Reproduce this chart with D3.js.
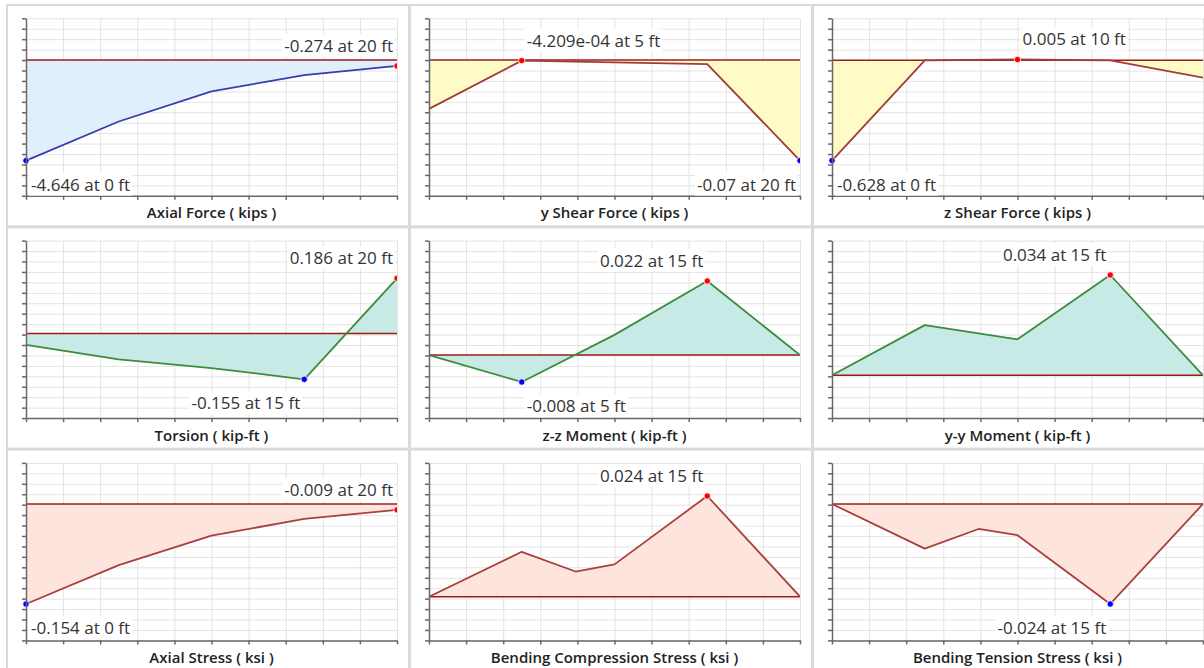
<!DOCTYPE html>
<html>
<head>
<meta charset="utf-8">
<script src="https://cdn.jsdelivr.net/npm/d3@7"></script>
<style>
  body { margin: 0; background: #fff; }
  svg { display: block; font-family: "Open Sans", "Noto Sans", sans-serif; }
</style>
</head>
<body>
<svg id="chart" width="1204" height="668"></svg>
<script>
// Stations along the member (ft)
const stations = [0, 5, 10, 15, 20];
const stressStations = [0, 5, 7.9, 10, 15, 20];

// Result values at each station
const axialForce   = [-4.646, -2.84, -1.45, -0.70, -0.274];
const yShearForce  = [-0.034, -4.209e-4, -0.0016, -0.0028, -0.07];
const zShearForce  = [-0.628, 0.0, 0.005, 0.0, -0.108];
const torsion      = [-0.039, -0.088, -0.117, -0.155, 0.186];
const zzMoment     = [0, -0.008, 0.006, 0.022, 0];
const yyMoment     = [0, 0.017, 0.0122, 0.034, 0];
const axialStress  = [-0.154, -0.094, -0.0488, -0.023, -0.009];
const bendCompStress = [0, 0.0107, 0.006, 0.0077, 0.024, 0];
const bendTensStress = [0, -0.0107, -0.006, -0.0075, -0.024, 0];

// Diagram titles
const titles = [
  "Axial Force ( kips )", "y Shear Force ( kips )", "z Shear Force ( kips )",
  "Torsion ( kip-ft )", "z-z Moment ( kip-ft )", "y-y Moment ( kip-ft )",
  "Axial Stress ( ksi )", "Bending Compression Stress ( ksi )", "Bending Tension Stress ( ksi )"
];

// Value range shown on each diagram's vertical axis [low, high]
const yDomains = [
  [-6.272, 1.926], [-0.0945, 0.02902], [-0.8485, 0.263],
  [-0.286, 0.3133], [-0.01872, 0.0340], [-0.01451, 0.04566],
  [-0.210, 0.0633], [-0.01042, 0.03189], [-0.03274, 0.00986]
];

// Which extremes get a marker and a label: [max, min]
const extremaShown = [
  [true, true], [true, true], [true, true],
  [true, true], [true, true], [true, false],
  [true, true], [true, false], [false, true]
];

const seriesValues = [axialForce, yShearForce, zShearForce, torsion, zzMoment, yyMoment,
                      axialStress, bendCompStress, bendTensStress];
const seriesStations = [stations, stations, stations, stations, stations, stations,
                        stations, stressStations, stressStations];

// Colour themes per result family
const themes = {
  axial:  { line: "#3b3bb0", fill: "#dfeffb" },
  shear:  { line: "#a03c3a", fill: "#fffbc6" },
  moment: { line: "#3d8b3d", fill: "#c8eae7" },
  stress: { line: "#a8403e", fill: "#fde4dc" }
};
const panelThemes = ["axial", "shear", "shear", "moment", "moment", "moment", "stress", "stress", "stress"];

const cellW = 403, cellH = 222.3;
const padL = 26, padT = 18.3, plotW = 371, plotH = 177.5;

const svg = d3.select("#chart");

function formatValue(v) {
  if (v !== 0 && Math.abs(v) < 0.001) {
    return v.toExponential(3).replace(/e([+-])(\d)$/, "e$10$2");
  }
  return String(+v.toFixed(3));
}

titles.forEach((title, i) => {
  const col = i % 3, row = Math.floor(i / 3);
  const ox = col * cellW, oy = row * cellH;
  const xs = seriesStations[i], ys = seriesValues[i];
  const theme = themes[panelThemes[i]];
  const [lo, hi] = yDomains[i];

  // panel frame
  svg.append("rect")
    .attr("x", ox + 7).attr("y", oy + 5)
    .attr("width", cellW - 1).attr("height", cellH - 1)
    .attr("fill", "none").attr("stroke", "#dadada").attr("stroke-width", 2);

  const g = svg.append("g").attr("transform", `translate(${ox + padL},${oy + padT})`);

  const x = d3.scaleLinear().domain([0, 20]).range([0, plotW]);
  const y = d3.scaleLinear().domain([lo, hi]).range([plotH, 0]);
  const yTicks = d3.range(18).map(k => lo + k * (hi - lo) / 17);
  const xTicks = d3.range(0, 21, 2);

  const clipId = "clip" + i;
  g.append("clipPath").attr("id", clipId)
    .append("rect").attr("x", -6).attr("y", -4).attr("width", plotW + 6).attr("height", plotH + 8);

  // grid
  const gy = g.append("g")
    .call(d3.axisLeft(y).tickValues(yTicks).tickSize(-plotW).tickFormat(""));
  gy.select(".domain").remove();
  gy.selectAll("line").attr("stroke", "#e3e3e3").attr("stroke-width", 1);
  const gx = g.append("g")
    .call(d3.axisBottom(x).tickValues(xTicks).tickSize(plotH).tickFormat(""));
  gx.select(".domain").remove();
  gx.selectAll("line").attr("stroke", "#e3e3e3").attr("stroke-width", 1);

  const pts = xs.map((s, k) => [s, ys[k]]);
  const body = g.append("g").attr("clip-path", `url(#${clipId})`);

  // filled diagram
  body.append("path")
    .datum(pts)
    .attr("fill", theme.fill)
    .attr("d", d3.area().x(d => x(d[0])).y0(y(0)).y1(d => y(d[1])));

  // zero reference line
  body.append("line")
    .attr("x1", 0).attr("x2", plotW)
    .attr("y1", y(0)).attr("y2", y(0))
    .attr("stroke", "#9e1b1b").attr("stroke-width", 1.5);

  // diagram outline
  body.append("path")
    .datum(pts)
    .attr("fill", "none")
    .attr("stroke", theme.line).attr("stroke-width", 1.8)
    .attr("stroke-linejoin", "round")
    .attr("d", d3.line().x(d => x(d[0])).y(d => y(d[1])));

  // axes
  const ay = g.append("g")
    .call(d3.axisLeft(y).tickValues(yTicks).tickSize(4).tickSizeOuter(0).tickFormat(""));
  ay.selectAll("line, path").attr("stroke", "#686868").attr("stroke-width", 1.5);
  const ax = g.append("g").attr("transform", `translate(0,${plotH})`)
    .call(d3.axisBottom(x).tickValues(xTicks).tickSize(4).tickSizeOuter(0).tickFormat(""));
  ax.selectAll("line, path").attr("stroke", "#686868").attr("stroke-width", 1.5);

  // extreme markers and labels
  const [showMax, showMin] = extremaShown[i];
  const marks = [];
  if (showMax) marks.push({ k: d3.maxIndex(ys), kind: "max" });
  if (showMin) marks.push({ k: d3.minIndex(ys), kind: "min" });

  marks.forEach(m => {
    const sx = x(xs[m.k]), sy = y(ys[m.k]);
    const cy = m.kind === "max" ? sy - 20 : sy + 24;
    const leftSide = xs[m.k] <= 10;
    const lbl = g.append("g");
    const bg = lbl.append("rect").attr("fill", "#fff");
    const t = lbl.append("text")
      .attr("x", leftSide ? sx + 5 : sx - 4)
      .attr("y", cy + 6)
      .attr("text-anchor", leftSide ? "start" : "end")
      .attr("font-size", 17)
      .attr("fill", "#333")
      .text(`${formatValue(ys[m.k])} at ${xs[m.k]} ft`);
    const bb = t.node().getBBox();
    bg.attr("x", bb.x - 2).attr("y", bb.y).attr("width", bb.width + 4).attr("height", bb.height);

    body.append("circle")
      .attr("cx", sx).attr("cy", sy).attr("r", 3.2)
      .attr("fill", m.kind === "max" ? "#ff0000" : "#0000ff")
      .attr("stroke", "#fff").attr("stroke-width", 0.8);
  });

  // title
  g.append("text")
    .attr("x", plotW / 2).attr("y", plotH + 22.5)
    .attr("text-anchor", "middle")
    .attr("font-size", 15).attr("font-weight", 600)
    .attr("fill", "#222")
    .text(title);
});
</script>
</body>
</html>
